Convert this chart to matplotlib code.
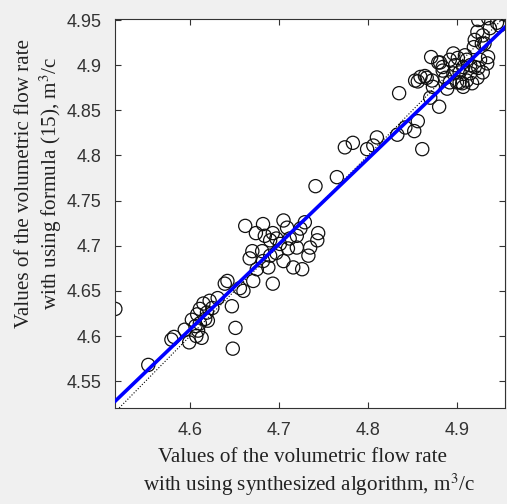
import numpy as np
import matplotlib
matplotlib.use("Agg")
import matplotlib.pyplot as plt

# values
x_alg = [4.516, 4.553, 4.579, 4.582, 4.594, 4.599, 4.602, 4.608, 4.611, 4.615,
         4.619, 4.613, 4.609, 4.620, 4.622, 4.631, 4.639, 4.647, 4.651, 4.648,
         4.660, 4.606, 4.617, 4.611, 4.625, 4.607,
         4.741, 4.765, 4.662, 4.674, 4.682, 4.693, 4.705, 4.709, 4.729, 4.744,
         4.743, 4.735, 4.720, 4.720, 4.690, 4.701, 4.670, 4.667, 4.682, 4.675,
         4.688, 4.690, 4.710, 4.733, 4.716, 4.726, 4.693, 4.671, 4.642, 4.656,
         4.684, 4.697, 4.712, 4.724, 4.681, 4.705, 4.697,
         4.835, 4.774, 4.783, 4.799, 4.806, 4.810, 4.833, 4.842, 4.852, 4.856,
         4.861, 4.870, 4.880,
         4.924, 4.935, 4.945, 4.923, 4.920, 4.929, 4.937, 4.919, 4.928, 4.853,
         4.859, 4.866, 4.872, 4.881, 4.884, 4.892, 4.896, 4.901, 4.907, 4.911,
         4.915, 4.920, 4.926, 4.929, 4.934, 4.935, 4.911, 4.903, 4.892, 4.889,
         4.917, 4.923, 4.907, 4.873, 4.871, 4.879, 4.896, 4.856, 4.864, 4.884,
         4.900, 4.906, 4.948, 4.931, 4.898, 4.915, 4.903, 4.887, 4.924, 4.909]
y_formula = [4.630, 4.568, 4.596, 4.599, 4.607, 4.593, 4.618, 4.624, 4.630, 4.636,
             4.626, 4.598, 4.606, 4.617, 4.639, 4.642, 4.658, 4.633, 4.609, 4.586,
             4.650, 4.611, 4.619, 4.614, 4.631, 4.600,
             4.766, 4.776, 4.722, 4.714, 4.724, 4.714, 4.728, 4.720, 4.726, 4.714,
             4.706, 4.698, 4.711, 4.698, 4.706, 4.702, 4.694, 4.686, 4.683, 4.674,
             4.676, 4.689, 4.697, 4.689, 4.676, 4.674, 4.658, 4.661, 4.661, 4.653,
             4.711, 4.708, 4.708, 4.719, 4.694, 4.683, 4.692,
             4.869, 4.809, 4.814, 4.807, 4.811, 4.820, 4.823, 4.831, 4.827, 4.838,
             4.807, 4.864, 4.854,
             4.950, 4.952, 4.947, 4.937, 4.928, 4.933, 4.941, 4.920, 4.924, 4.883,
             4.887, 4.886, 4.883, 4.903, 4.894, 4.906, 4.891, 4.908, 4.898, 4.906,
             4.891, 4.898, 4.906, 4.892, 4.902, 4.909, 4.883, 4.881, 4.881, 4.874,
             4.880, 4.886, 4.876, 4.876, 4.909, 4.903, 4.913, 4.882, 4.888, 4.898,
             4.881, 4.880, 4.944, 4.924, 4.900, 4.900, 4.892, 4.886, 4.897, 4.911]

# linear fit y = a + b*x
fit_a = 0.2604
fit_b = 0.945

x_ticks = [4.6, 4.7, 4.8, 4.9]
y_ticks = [4.55, 4.6, 4.65, 4.7, 4.75, 4.8, 4.85, 4.9, 4.95]

plt.rcParams['mathtext.fontset'] = 'stix'

fig = plt.figure(figsize=(5.07, 5.04), dpi=100, facecolor='#f0f0f0')
ax = fig.add_axes([0.227, 0.190, 0.769, 0.772])
ax.set_facecolor('white')

xlim = (4.5157, 4.954)
ylim = (4.52, 4.951)

ax.scatter(x_alg, y_formula, s=90, facecolors='none', edgecolors='#111111', linewidths=0.9, zorder=2)

xl = np.array(xlim)
ax.plot(xl, xl, color='black', linestyle=':', linewidth=0.8, zorder=3)
ax.plot(xl, fit_a + fit_b * xl, color='#0000ff', linewidth=2.6, zorder=4)

ax.set_xlim(xlim)
ax.set_ylim(ylim)
ax.set_xticks(x_ticks)
ax.set_yticks(y_ticks)
ax.set_xticklabels([str(v) for v in x_ticks])
ax.set_yticklabels([str(v) for v in y_ticks])
ax.tick_params(direction='in', top=True, right=True, length=4, width=0.8,
               labelsize=13, colors='#333333', pad=10)
for lab in ax.get_xticklabels() + ax.get_yticklabels():
    lab.set_family('Liberation Sans')
for sp in ax.spines.values():
    sp.set_color('#333333')
    sp.set_linewidth(0.8)

serif = 'Liberation Serif'
fs = 15.2
fig.text(0.597, 1 - 458 / 504, 'Values of the volumetric flow rate', ha='center', va='center',
         family=serif, fontsize=fs, color='#222222')
fig.text(0.61, 1 - 485 / 504, r'with using synthesized algorithm, m$^3$/c', ha='center', va='center',
         family=serif, fontsize=fs, color='#222222')
fig.text(25 / 507, 1 - 183 / 504, 'Values of the volumetric flow rate', ha='center', va='center',
         rotation=90, family=serif, fontsize=fs, color='#222222')
fig.text(51 / 507, 1 - 183 / 504, r'with using formula (15), m$^3$/c', ha='center', va='center',
         rotation=90, family=serif, fontsize=fs, color='#222222')

fig.savefig('out.png', dpi=100, facecolor=fig.get_facecolor())
